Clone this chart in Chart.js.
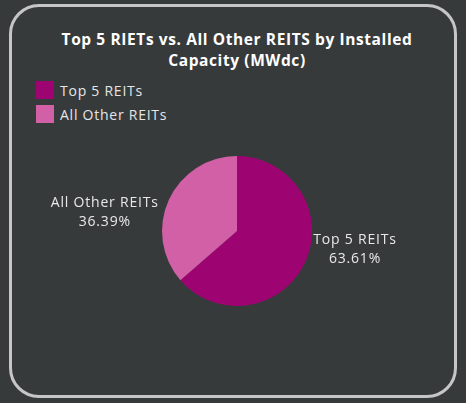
<!DOCTYPE html>
<html>
<head>
<meta charset="utf-8">
<script src="https://cdn.jsdelivr.net/npm/chart.js@4"></script>
<style>
  html, body { margin: 0; padding: 0; background: #373a3b; width: 466px; height: 403px; overflow: hidden; }
  body { font-family: "Open Sans", "Liberation Sans", sans-serif; position: relative; }
  .card {
    position: absolute; left: 9px; top: 4px; width: 442px; height: 388px;
    border: 3px solid #c6c6c6; border-radius: 30px; background: #373a3b;
  }
  .title {
    position: absolute; left: 0; top: 29px; width: 474px; text-align: center;
    color: #ffffff; font-weight: 700; font-size: 15.5px; line-height: 21px; letter-spacing: 0.6px;
  }
  .legend { position: absolute; left: 36px; top: 81px; }
  .legend-item { display: flex; align-items: center; height: 18px; margin-bottom: 6px; color: #e6e6e6; font-size: 14px; letter-spacing: 0.75px; }
  .legend-box { width: 18px; height: 18px; margin-right: 6px; }
  canvas { position: absolute; left: 0; top: 0; }
</style>
</head>
<body>
<div class="card"></div>
<div class="title">Top 5 RIETs vs. All Other REITS by Installed<br>Capacity (MWdc)</div>
<div class="legend" id="legend"></div>
<canvas id="pie" width="466" height="403"></canvas>
<script>
// Installed capacity share, percent
const categories = ['Top 5 REITs', 'All Other REITs'];
const shares = [63.61, 36.39];
const sliceColors = ['#9e0471', '#d160a6'];

// Legend stacked top-left, one entry per category
const legendEl = document.getElementById('legend');
categories.forEach((name, i) => {
  const item = document.createElement('div');
  item.className = 'legend-item';
  item.innerHTML = `<span class="legend-box" style="background:${sliceColors[i]}"></span>${name}`;
  legendEl.appendChild(item);
});

// Outside labels: category + percent beside each slice
const sliceLabels = {
  id: 'sliceLabels',
  afterDatasetsDraw(chart) {
    const { ctx } = chart;
    const meta = chart.getDatasetMeta(0);
    ctx.save();
    ctx.fillStyle = '#e8e8e8';
    ctx.font = '14px "Open Sans", sans-serif';
    ctx.letterSpacing = '0.8px';
    ctx.textBaseline = 'middle';
    meta.data.forEach((arc, i) => {
      const mid = (arc.startAngle + arc.endAngle) / 2;
      const ex = arc.x + Math.cos(mid) * arc.outerRadius;
      const ey = arc.y + Math.sin(mid) * arc.outerRadius;
      const right = Math.cos(mid) >= 0;
      const y = arc.y + (ey - arc.y) * 0.6;
      const x = ex + (right ? 8 : -10);
      const lines = [categories[i], shares[i].toFixed(2) + '%'];
      const w = Math.max(...lines.map((t) => ctx.measureText(t).width));
      const cx = right ? x + w / 2 : x - w / 2;
      ctx.textAlign = 'center';
      ctx.fillText(lines[0], cx, y - 9.5);
      ctx.fillText(lines[1], cx, y + 9.5);
    });
    ctx.restore();
  },
};

new Chart(document.getElementById('pie'), {
  type: 'pie',
  data: {
    labels: categories,
    datasets: [{
      data: shares,
      backgroundColor: sliceColors,
      borderWidth: 0,
    }],
  },
  options: {
    responsive: false,
    animation: false,
    layout: { padding: { top: 156, bottom: 97, left: 8, right: 0 } },
    plugins: {
      legend: { display: false },
      title: { display: false },
      tooltip: { enabled: false },
    },
  },
  plugins: [sliceLabels],
});
</script>
</body>
</html>
